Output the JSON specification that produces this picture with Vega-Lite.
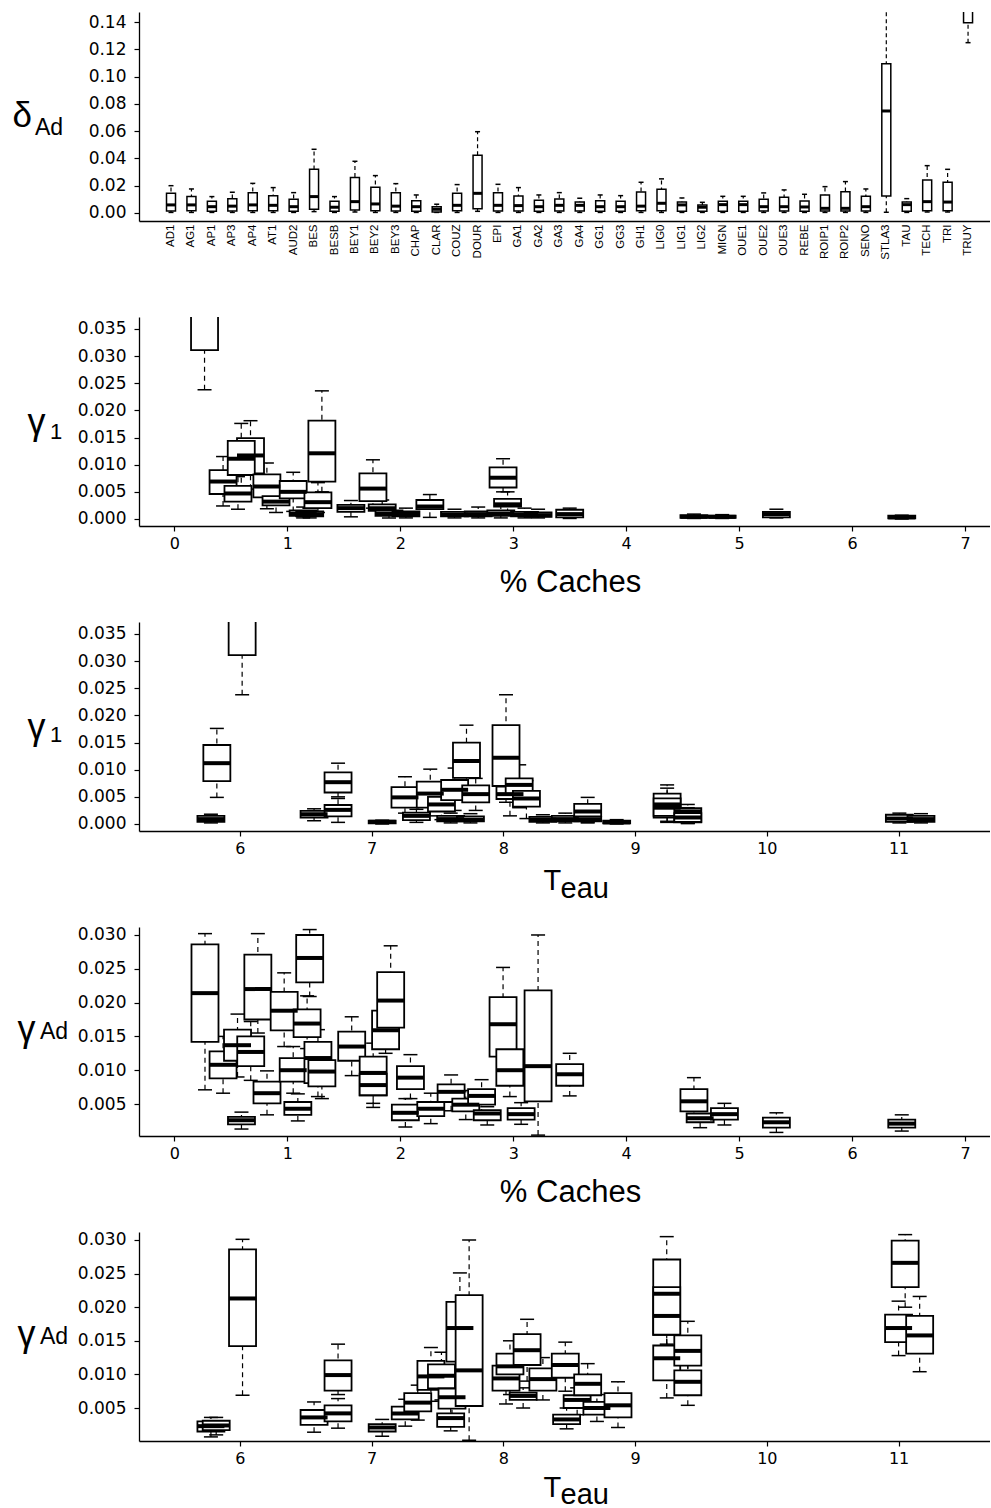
{
"$schema": "https://vega.github.io/schema/vega-lite/v6.json",
"padding": {"left": 12, "top": 12, "right": 0, "bottom": 0},
"background": "white",
"spacing": 96,
"bounds": "flush",
"config": {
  "view": {"stroke": null},
  "font": "Liberation Sans",
  "tick": {"opacity": 1},
  "axis": {"grid": false, "domainColor": "black", "tickColor": "black", "labelColor": "black", "titleColor": "black", "labelFont": "DejaVu Sans", "titleFont": "Liberation Sans", "labelFontSize": 16, "tickSize": 5, "titleFontWeight": "normal", "domainWidth": 1.3, "tickWidth": 1.2, "labelOverlap": false, "tickCount": 12},
  "title": {"font": "Liberation Sans", "fontWeight": "normal", "color": "black"}
},
"datasets": {
  "p1": [
    {"s":"AD1","lo":0.0004,"q1":0.0015,"med":0.0059,"q3":0.0144,"hi":0.0200},
    {"s":"AG1","lo":0.0004,"q1":0.0017,"med":0.0059,"q3":0.0120,"hi":0.0176},
    {"s":"AP1","lo":0.0004,"q1":0.0012,"med":0.0046,"q3":0.0086,"hi":0.0120},
    {"s":"AP3","lo":0.0004,"q1":0.0015,"med":0.0050,"q3":0.0105,"hi":0.0152},
    {"s":"AP4","lo":0.0004,"q1":0.0017,"med":0.0059,"q3":0.0149,"hi":0.0217},
    {"s":"AT1","lo":0.0004,"q1":0.0017,"med":0.0056,"q3":0.0127,"hi":0.0186},
    {"s":"AUD2","lo":0.0004,"q1":0.0012,"med":0.0046,"q3":0.0100,"hi":0.0149},
    {"s":"BES","lo":0.0010,"q1":0.0027,"med":0.0120,"q3":0.0320,"hi":0.0467},
    {"s":"BESB","lo":0.0004,"q1":0.0012,"med":0.0042,"q3":0.0086,"hi":0.0120},
    {"s":"BEY1","lo":0.0007,"q1":0.0022,"med":0.0083,"q3":0.0260,"hi":0.0379},
    {"s":"BEY2","lo":0.0004,"q1":0.0017,"med":0.0066,"q3":0.0188,"hi":0.0274},
    {"s":"BEY3","lo":0.0004,"q1":0.0015,"med":0.0050,"q3":0.0149,"hi":0.0215},
    {"s":"CHAP","lo":0.0004,"q1":0.0012,"med":0.0046,"q3":0.0090,"hi":0.0132},
    {"s":"CLAR","lo":0.0004,"q1":0.0007,"med":0.0027,"q3":0.0046,"hi":0.0064},
    {"s":"COUZ","lo":0.0004,"q1":0.0017,"med":0.0056,"q3":0.0144,"hi":0.0208},
    {"s":"DOUR","lo":0.0012,"q1":0.0030,"med":0.0144,"q3":0.0423,"hi":0.0596},
    {"s":"EPI","lo":0.0004,"q1":0.0015,"med":0.0056,"q3":0.0149,"hi":0.0210},
    {"s":"GA1","lo":0.0004,"q1":0.0015,"med":0.0054,"q3":0.0125,"hi":0.0186},
    {"s":"GA2","lo":0.0004,"q1":0.0012,"med":0.0046,"q3":0.0093,"hi":0.0132},
    {"s":"GA3","lo":0.0004,"q1":0.0015,"med":0.0056,"q3":0.0103,"hi":0.0149},
    {"s":"GA4","lo":0.0004,"q1":0.0015,"med":0.0056,"q3":0.0080,"hi":0.0108},
    {"s":"GG1","lo":0.0004,"q1":0.0012,"med":0.0046,"q3":0.0090,"hi":0.0132},
    {"s":"GG3","lo":0.0004,"q1":0.0012,"med":0.0046,"q3":0.0086,"hi":0.0127},
    {"s":"GH1","lo":0.0004,"q1":0.0017,"med":0.0050,"q3":0.0154,"hi":0.0225},
    {"s":"LIG0","lo":0.0004,"q1":0.0017,"med":0.0071,"q3":0.0174,"hi":0.0250},
    {"s":"LIG1","lo":0.0004,"q1":0.0012,"med":0.0059,"q3":0.0080,"hi":0.0110},
    {"s":"LIG2","lo":0.0004,"q1":0.0012,"med":0.0042,"q3":0.0059,"hi":0.0078},
    {"s":"MIGN","lo":0.0004,"q1":0.0012,"med":0.0061,"q3":0.0086,"hi":0.0122},
    {"s":"OUE1","lo":0.0004,"q1":0.0012,"med":0.0061,"q3":0.0086,"hi":0.0122},
    {"s":"OUE2","lo":0.0004,"q1":0.0015,"med":0.0046,"q3":0.0100,"hi":0.0147},
    {"s":"OUE3","lo":0.0004,"q1":0.0015,"med":0.0046,"q3":0.0115,"hi":0.0169},
    {"s":"REBE","lo":0.0004,"q1":0.0012,"med":0.0044,"q3":0.0088,"hi":0.0137},
    {"s":"ROIP1","lo":0.0004,"q1":0.0015,"med":0.0034,"q3":0.0132,"hi":0.0193},
    {"s":"ROIP2","lo":0.0004,"q1":0.0015,"med":0.0034,"q3":0.0156,"hi":0.0230},
    {"s":"SENO","lo":0.0004,"q1":0.0015,"med":0.0046,"q3":0.0122,"hi":0.0176},
    {"s":"STLA3","lo":0.0005,"q1":0.0125,"med":0.0748,"q3":0.1095,"hi":0.1500},
    {"s":"TAU","lo":0.0004,"q1":0.0012,"med":0.0061,"q3":0.0080,"hi":0.0105},
    {"s":"TECH","lo":0.0007,"q1":0.0017,"med":0.0083,"q3":0.0242,"hi":0.0347},
    {"s":"TRI","lo":0.0007,"q1":0.0017,"med":0.0080,"q3":0.0225,"hi":0.0320},
    {"s":"TRUY","lo":0.1249,"q1":0.1395,"med":0.1600,"q3":0.1800,"hi":0.2000}
  ],
  "p2": [
    {"x":0.267,"lo":0.0238,"q1":0.0311,"med":0.045,"q3":0.060,"hi":0.080},
    {"x":0.431,"lo":0.0024,"q1":0.0046,"med":0.0069,"q3":0.0090,"hi":0.0115},
    {"x":0.563,"lo":0.0018,"q1":0.0032,"med":0.0047,"q3":0.0061,"hi":0.0078},
    {"x":0.674,"lo":0.0055,"q1":0.0084,"med":0.0117,"q3":0.0149,"hi":0.0181},
    {"x":0.592,"lo":0.0050,"q1":0.0081,"med":0.0111,"q3":0.0144,"hi":0.0176},
    {"x":0.819,"lo":0.0019,"q1":0.0040,"med":0.0060,"q3":0.0082,"hi":0.0103},
    {"x":0.900,"lo":0.0012,"q1":0.0025,"med":0.0032,"q3":0.0042,"hi":0.0060},
    {"x":1.052,"lo":0.0014,"q1":0.0038,"med":0.0050,"q3":0.0070,"hi":0.0086},
    {"x":1.140,"lo":0.0002,"q1":0.0006,"med":0.0010,"q3":0.0016,"hi":0.0022},
    {"x":1.198,"lo":0.0002,"q1":0.0005,"med":0.0009,"q3":0.0014,"hi":0.0020},
    {"x":1.306,"lo":0.0050,"q1":0.0069,"med":0.0121,"q3":0.0181,"hi":0.0236},
    {"x":1.271,"lo":0.0012,"q1":0.0020,"med":0.0031,"q3":0.0049,"hi":0.0067},
    {"x":1.563,"lo":0.0004,"q1":0.0013,"med":0.0020,"q3":0.0026,"hi":0.0034},
    {"x":1.758,"lo":0.0020,"q1":0.0033,"med":0.0056,"q3":0.0084,"hi":0.0109},
    {"x":1.840,"lo":0.0008,"q1":0.0015,"med":0.0020,"q3":0.0027,"hi":0.0035},
    {"x":1.900,"lo":0.0002,"q1":0.0006,"med":0.0010,"q3":0.0016,"hi":0.0024},
    {"x":2.050,"lo":0.0002,"q1":0.0005,"med":0.0009,"q3":0.0014,"hi":0.0020},
    {"x":2.262,"lo":0.0003,"q1":0.0018,"med":0.0023,"q3":0.0035,"hi":0.0045},
    {"x":2.480,"lo":0.0002,"q1":0.0005,"med":0.0008,"q3":0.0013,"hi":0.0018},
    {"x":2.690,"lo":0.0002,"q1":0.0005,"med":0.0009,"q3":0.0014,"hi":0.0022},
    {"x":2.910,"lo":0.0050,"q1":0.0058,"med":0.0076,"q3":0.0095,"hi":0.0111},
    {"x":2.950,"lo":0.0010,"q1":0.0023,"med":0.0027,"q3":0.0037,"hi":0.0050},
    {"x":2.890,"lo":0.0002,"q1":0.0006,"med":0.0010,"q3":0.0016,"hi":0.0025},
    {"x":3.100,"lo":0.0002,"q1":0.0005,"med":0.0008,"q3":0.0013,"hi":0.0020},
    {"x":3.220,"lo":0.0002,"q1":0.0004,"med":0.0007,"q3":0.0012,"hi":0.0018},
    {"x":3.500,"lo":0.0001,"q1":0.0003,"med":0.0009,"q3":0.0017,"hi":0.0020},
    {"x":4.600,"lo":0.0001,"q1":0.0002,"med":0.0004,"q3":0.0007,"hi":0.0009},
    {"x":4.850,"lo":0.0001,"q1":0.0002,"med":0.0004,"q3":0.0006,"hi":0.0008},
    {"x":5.330,"lo":0.0002,"q1":0.0003,"med":0.0009,"q3":0.0013,"hi":0.0018},
    {"x":6.440,"lo":0.0000,"q1":0.0001,"med":0.0003,"q3":0.0006,"hi":0.0007}
  ],
  "p3": [
    {"x":6.017,"lo":0.0238,"q1":0.0311,"med":0.045,"q3":0.060,"hi":0.080},
    {"x":5.825,"lo":0.0049,"q1":0.0079,"med":0.0112,"q3":0.01455,"hi":0.0176},
    {"x":5.780,"lo":0.0002,"q1":0.0004,"med":0.0009,"q3":0.0015,"hi":0.0018},
    {"x":6.563,"lo":0.0006,"q1":0.0012,"med":0.0018,"q3":0.0024,"hi":0.0028},
    {"x":6.745,"lo":0.0050,"q1":0.0058,"med":0.0077,"q3":0.0095,"hi":0.0112},
    {"x":6.745,"lo":0.0003,"q1":0.0014,"med":0.0026,"q3":0.0035,"hi":0.0047},
    {"x":7.080,"lo":0.0000,"q1":0.0001,"med":0.0004,"q3":0.0006,"hi":0.0007},
    {"x":7.253,"lo":0.0020,"q1":0.0030,"med":0.0049,"q3":0.0068,"hi":0.0087},
    {"x":7.340,"lo":0.0003,"q1":0.0007,"med":0.0015,"q3":0.0021,"hi":0.0027},
    {"x":7.445,"lo":0.0015,"q1":0.0030,"med":0.0056,"q3":0.0078,"hi":0.0101},
    {"x":7.530,"lo":0.0008,"q1":0.0023,"med":0.0036,"q3":0.0050,"hi":0.0065},
    {"x":7.630,"lo":0.0025,"q1":0.0044,"med":0.0063,"q3":0.0081,"hi":0.0103},
    {"x":7.720,"lo":0.0050,"q1":0.0085,"med":0.0116,"q3":0.0150,"hi":0.0182},
    {"x":7.790,"lo":0.0025,"q1":0.0040,"med":0.0055,"q3":0.0071,"hi":0.0084},
    {"x":7.600,"lo":0.0002,"q1":0.0005,"med":0.0009,"q3":0.0015,"hi":0.0020},
    {"x":7.750,"lo":0.0002,"q1":0.0005,"med":0.0008,"q3":0.0014,"hi":0.0019},
    {"x":8.020,"lo":0.0040,"q1":0.0070,"med":0.0122,"q3":0.0182,"hi":0.0238},
    {"x":8.050,"lo":0.0015,"q1":0.0046,"med":0.0055,"q3":0.0069,"hi":0.0080},
    {"x":8.120,"lo":0.0030,"q1":0.0053,"med":0.0072,"q3":0.0084,"hi":0.0109},
    {"x":8.175,"lo":0.0010,"q1":0.0032,"med":0.0047,"q3":0.0061,"hi":0.0080},
    {"x":8.300,"lo":0.0002,"q1":0.0004,"med":0.0008,"q3":0.0013,"hi":0.0017},
    {"x":8.470,"lo":0.0002,"q1":0.0005,"med":0.0009,"q3":0.0015,"hi":0.0020},
    {"x":8.640,"lo":0.0003,"q1":0.0014,"med":0.0023,"q3":0.0037,"hi":0.0049},
    {"x":8.640,"lo":0.0002,"q1":0.0005,"med":0.0008,"q3":0.0013,"hi":0.0018},
    {"x":8.860,"lo":0.0000,"q1":0.0001,"med":0.0003,"q3":0.0006,"hi":0.0008},
    {"x":9.243,"lo":0.0003,"q1":0.0012,"med":0.0036,"q3":0.0056,"hi":0.0072},
    {"x":9.243,"lo":0.0005,"q1":0.0015,"med":0.0030,"q3":0.0047,"hi":0.0066},
    {"x":9.400,"lo":0.0001,"q1":0.0003,"med":0.0023,"q3":0.0029,"hi":0.0036},
    {"x":9.400,"lo":0.0001,"q1":0.0004,"med":0.0012,"q3":0.0020,"hi":0.0030},
    {"x":11.006,"lo":0.0002,"q1":0.0004,"med":0.0010,"q3":0.0017,"hi":0.0020},
    {"x":11.170,"lo":0.0002,"q1":0.0004,"med":0.0009,"q3":0.0015,"hi":0.0019}
  ],
  "p4": [
    {"x":0.271,"lo":0.0071,"q1":0.0142,"med":0.0214,"q3":0.0286,"hi":0.0302},
    {"x":0.431,"lo":0.0066,"q1":0.0088,"med":0.0108,"q3":0.0128,"hi":0.0150},
    {"x":0.559,"lo":0.0090,"q1":0.0114,"med":0.0137,"q3":0.0160,"hi":0.0183},
    {"x":0.676,"lo":0.0085,"q1":0.0106,"med":0.0127,"q3":0.0150,"hi":0.0172},
    {"x":0.594,"lo":0.0013,"q1":0.0020,"med":0.0026,"q3":0.0031,"hi":0.0038},
    {"x":0.739,"lo":0.0155,"q1":0.0175,"med":0.0220,"q3":0.0271,"hi":0.0302},
    {"x":0.820,"lo":0.0034,"q1":0.0051,"med":0.0066,"q3":0.0083,"hi":0.0099},
    {"x":0.972,"lo":0.0135,"q1":0.0159,"med":0.0188,"q3":0.0216,"hi":0.0244},
    {"x":1.052,"lo":0.0066,"q1":0.0083,"med":0.0100,"q3":0.0118,"hi":0.0135},
    {"x":1.093,"lo":0.0025,"q1":0.0034,"med":0.0043,"q3":0.0053,"hi":0.0065},
    {"x":1.198,"lo":0.0209,"q1":0.0230,"med":0.0266,"q3":0.0300,"hi":0.0308},
    {"x":1.175,"lo":0.0132,"q1":0.0149,"med":0.0169,"q3":0.0190,"hi":0.0210},
    {"x":1.271,"lo":0.0061,"q1":0.0081,"med":0.0118,"q3":0.0142,"hi":0.0160},
    {"x":1.306,"lo":0.0058,"q1":0.0076,"med":0.0098,"q3":0.0115,"hi":0.0133},
    {"x":1.570,"lo":0.0092,"q1":0.0114,"med":0.0135,"q3":0.0157,"hi":0.0179},
    {"x":1.760,"lo":0.0051,"q1":0.0063,"med":0.0096,"q3":0.0120,"hi":0.0140},
    {"x":1.760,"lo":0.0045,"q1":0.0063,"med":0.0078,"q3":0.0095,"hi":0.0110},
    {"x":1.870,"lo":0.0125,"q1":0.0131,"med":0.0159,"q3":0.0188,"hi":0.0215},
    {"x":1.915,"lo":0.0145,"q1":0.0163,"med":0.0203,"q3":0.0245,"hi":0.0284},
    {"x":2.090,"lo":0.0058,"q1":0.0072,"med":0.0089,"q3":0.0106,"hi":0.0123},
    {"x":2.045,"lo":0.0016,"q1":0.0026,"med":0.0037,"q3":0.0049,"hi":0.0058},
    {"x":2.270,"lo":0.0021,"q1":0.0032,"med":0.0043,"q3":0.0053,"hi":0.0066},
    {"x":2.450,"lo":0.0040,"q1":0.0053,"med":0.0068,"q3":0.0079,"hi":0.0093},
    {"x":2.580,"lo":0.0027,"q1":0.0039,"med":0.0049,"q3":0.0058,"hi":0.0070},
    {"x":2.720,"lo":0.0035,"q1":0.0049,"med":0.0062,"q3":0.0072,"hi":0.0086},
    {"x":2.770,"lo":0.0019,"q1":0.0026,"med":0.0036,"q3":0.0041,"hi":0.0046},
    {"x":2.910,"lo":0.0100,"q1":0.0120,"med":0.0168,"q3":0.0208,"hi":0.0252},
    {"x":2.970,"lo":0.0061,"q1":0.0077,"med":0.0100,"q3":0.0131,"hi":0.0149},
    {"x":3.070,"lo":0.0020,"q1":0.0027,"med":0.0035,"q3":0.0044,"hi":0.0052},
    {"x":3.220,"lo":0.0004,"q1":0.0054,"med":0.0106,"q3":0.0218,"hi":0.0300},
    {"x":3.500,"lo":0.0062,"q1":0.0077,"med":0.0094,"q3":0.0109,"hi":0.0125},
    {"x":4.600,"lo":0.0030,"q1":0.0039,"med":0.0054,"q3":0.0072,"hi":0.0089},
    {"x":4.655,"lo":0.0015,"q1":0.0023,"med":0.0029,"q3":0.0036,"hi":0.0043},
    {"x":4.870,"lo":0.0019,"q1":0.0027,"med":0.0035,"q3":0.0044,"hi":0.0051},
    {"x":5.330,"lo":0.0008,"q1":0.0015,"med":0.0023,"q3":0.0030,"hi":0.0037},
    {"x":6.440,"lo":0.0010,"q1":0.0015,"med":0.0021,"q3":0.0027,"hi":0.0034}
  ],
  "p5": [
    {"x":5.780,"lo":0.0007,"q1":0.0015,"med":0.0023,"q3":0.0030,"hi":0.0036},
    {"x":5.820,"lo":0.0010,"q1":0.0017,"med":0.0024,"q3":0.0031,"hi":0.0036},
    {"x":6.020,"lo":0.0069,"q1":0.0142,"med":0.0213,"q3":0.0286,"hi":0.0301},
    {"x":6.563,"lo":0.0014,"q1":0.0025,"med":0.0036,"q3":0.0047,"hi":0.0059},
    {"x":6.745,"lo":0.0070,"q1":0.0076,"med":0.0099,"q3":0.0121,"hi":0.0145},
    {"x":6.745,"lo":0.0020,"q1":0.0030,"med":0.0042,"q3":0.0054,"hi":0.0064},
    {"x":7.080,"lo":0.0008,"q1":0.0015,"med":0.0021,"q3":0.0026,"hi":0.0033},
    {"x":7.255,"lo":0.0023,"q1":0.0033,"med":0.0042,"q3":0.0052,"hi":0.0063},
    {"x":7.350,"lo":0.0032,"q1":0.0045,"med":0.0058,"q3":0.0072,"hi":0.0084},
    {"x":7.450,"lo":0.0060,"q1":0.0077,"med":0.0097,"q3":0.0120,"hi":0.0140},
    {"x":7.530,"lo":0.0062,"q1":0.0079,"med":0.0098,"q3":0.0115,"hi":0.0133},
    {"x":7.610,"lo":0.0040,"q1":0.0049,"med":0.0066,"q3":0.0079,"hi":0.0095},
    {"x":7.600,"lo":0.0016,"q1":0.0022,"med":0.0035,"q3":0.0042,"hi":0.0050},
    {"x":7.670,"lo":0.0090,"q1":0.0119,"med":0.0169,"q3":0.0208,"hi":0.0251},
    {"x":7.740,"lo":0.0002,"q1":0.0053,"med":0.0106,"q3":0.0218,"hi":0.0300},
    {"x":8.020,"lo":0.0056,"q1":0.0076,"med":0.0094,"q3":0.0113,"hi":0.0130},
    {"x":8.050,"lo":0.0070,"q1":0.0100,"med":0.0112,"q3":0.0131,"hi":0.0150},
    {"x":8.180,"lo":0.0090,"q1":0.0114,"med":0.0136,"q3":0.0160,"hi":0.0182},
    {"x":8.150,"lo":0.0050,"q1":0.0062,"med":0.0068,"q3":0.0073,"hi":0.0080},
    {"x":8.300,"lo":0.0062,"q1":0.0076,"med":0.0093,"q3":0.0109,"hi":0.0125},
    {"x":8.470,"lo":0.0075,"q1":0.0095,"med":0.0114,"q3":0.0131,"hi":0.0148},
    {"x":8.480,"lo":0.0019,"q1":0.0026,"med":0.0033,"q3":0.0040,"hi":0.0050},
    {"x":8.560,"lo":0.0040,"q1":0.0050,"med":0.0062,"q3":0.0069,"hi":0.0080},
    {"x":8.640,"lo":0.0055,"q1":0.0069,"med":0.0086,"q3":0.0100,"hi":0.0116},
    {"x":8.710,"lo":0.0030,"q1":0.0040,"med":0.0050,"q3":0.0059,"hi":0.0070},
    {"x":8.870,"lo":0.0021,"q1":0.0036,"med":0.0054,"q3":0.0072,"hi":0.0089},
    {"x":9.240,"lo":0.0145,"q1":0.0159,"med":0.0220,"q3":0.0271,"hi":0.0305},
    {"x":9.240,"lo":0.0140,"q1":0.0159,"med":0.0187,"q3":0.0230,"hi":0.0244},
    {"x":9.240,"lo":0.0065,"q1":0.0091,"med":0.0124,"q3":0.0143,"hi":0.0160},
    {"x":9.400,"lo":0.0095,"q1":0.0113,"med":0.0135,"q3":0.0158,"hi":0.0179},
    {"x":9.400,"lo":0.0054,"q1":0.0069,"med":0.0089,"q3":0.0106,"hi":0.0120},
    {"x":11.050,"lo":0.0200,"q1":0.0230,"med":0.0266,"q3":0.0299,"hi":0.0308},
    {"x":11.000,"lo":0.0128,"q1":0.0148,"med":0.0169,"q3":0.0189,"hi":0.0209},
    {"x":11.160,"lo":0.0104,"q1":0.0131,"med":0.0158,"q3":0.0187,"hi":0.0216}
  ]
},
"vconcat": [
  {
    "width": 851, "height": 209,
    "data": {"name": "p1"},
    "title": {"text": "Ad", "orient": "top", "anchor": "start", "frame": "group", "fontSize": 23, "offset": 0, "baseline": "alphabetic", "dx": -104, "dy": 146},
    "encoding": {"x": {"field": "s", "type": "nominal", "sort": null, "scale": {"paddingInner": 0, "paddingOuter": 0.82, "align": 0.65}, "axis": {"title": null, "labelAngle": 270, "labelFont": "Liberation Sans", "labelFontSize": 11.5, "ticks": false, "labelPadding": 3, "labelOverlap": false}}},
    "layer": [
      {"mark": {"type": "rule", "color": "black", "strokeDash": [4, 3], "strokeWidth": 1.2, "clip": true},
       "encoding": {"y": {"field": "lo", "type": "quantitative", "title": "δ", "scale": {"domain": [-0.0059, 0.1474], "nice": false, "zero": false}, "axis": {"values": [0, 0.02, 0.04, 0.06, 0.08, 0.1, 0.12, 0.14], "tickCount": 12, "format": ".2f", "labelOverlap": false, "labelFontSize": 17, "titleAngle": 0, "titleAlign": "left", "titleBaseline": "alphabetic", "titleX": -127, "titleY": 114, "titleFontSize": 35, "labelPadding": 8}}, "y2": {"field": "hi"}}},
      {"mark": {"type": "tick", "orient": "horizontal", "color": "black", "size": 5, "thickness": 1.5, "clip": true},
       "encoding": {"y": {"field": "lo", "type": "quantitative", "title": "δ"}}},
      {"mark": {"type": "tick", "orient": "horizontal", "color": "black", "size": 5, "thickness": 1.5, "clip": true},
       "encoding": {"y": {"field": "hi", "type": "quantitative", "title": "δ"}}},
      {"mark": {"type": "bar", "size": 9, "fill": "white", "stroke": "black", "strokeWidth": 1.5, "clip": true},
       "encoding": {"y": {"field": "q1", "type": "quantitative", "title": "δ"}, "y2": {"field": "q3"}}},
      {"mark": {"type": "tick", "orient": "horizontal", "color": "black", "size": 9, "thickness": 3, "clip": true},
       "encoding": {"y": {"field": "med", "type": "quantitative", "title": "δ"}}}
    ]
  },
  {
    "width": 851, "height": 209,
    "data": {"name": "p2"},
    "title": {"text": "1", "orient": "top", "anchor": "start", "frame": "group", "fontSize": 22, "offset": 0, "baseline": "alphabetic", "dx": -89, "dy": 144},
    "encoding": {"x": {"field": "x", "type": "quantitative", "scale": {"domain": [-0.269, 7.177], "nice": false, "zero": false}, "axis": {"title": "% Caches", "values": [0, 1, 2, 3, 4, 5, 6, 7], "format": "d", "tickCount": 12, "titleFontSize": 31, "titleX": 431, "titleY": 65, "titleAlign": "center", "titleBaseline": "alphabetic", "labelPadding": 4}}},
    "layer": [
      {"mark": {"type": "rule", "color": "black", "strokeDash": [5, 4], "strokeWidth": 1.2, "clip": true},
       "encoding": {"y": {"field": "lo", "type": "quantitative", "title": "γ", "scale": {"domain": [-0.00129, 0.0372], "nice": false, "zero": false}, "axis": {"values": [0, 0.005, 0.01, 0.015, 0.02, 0.025, 0.03, 0.035], "tickCount": 12, "format": ".3f", "labelOverlap": false, "labelFontSize": 17, "titleAngle": 0, "titleAlign": "left", "titleBaseline": "alphabetic", "titleX": -112, "titleY": 116, "titleFontSize": 36, "labelPadding": 8}}, "y2": {"field": "hi"}}},
      {"mark": {"type": "tick", "orient": "horizontal", "color": "black", "size": 14, "thickness": 1.5, "clip": true},
       "encoding": {"y": {"field": "lo", "type": "quantitative", "title": "γ"}}},
      {"mark": {"type": "tick", "orient": "horizontal", "color": "black", "size": 14, "thickness": 1.5, "clip": true},
       "encoding": {"y": {"field": "hi", "type": "quantitative", "title": "γ"}}},
      {"mark": {"type": "bar", "size": 27, "fill": "white", "stroke": "black", "strokeWidth": 1.8, "clip": true},
       "encoding": {"y": {"field": "q1", "type": "quantitative", "title": "γ"}, "y2": {"field": "q3"}}},
      {"mark": {"type": "tick", "orient": "horizontal", "color": "black", "size": 27, "thickness": 4, "clip": true},
       "encoding": {"y": {"field": "med", "type": "quantitative", "title": "γ"}}}
    ]
  },
  {
    "width": 851, "height": 209,
    "data": {"name": "p3"},
    "title": {"text": "1", "orient": "top", "anchor": "start", "frame": "group", "fontSize": 22, "offset": 0, "baseline": "alphabetic", "dx": -89, "dy": 142},
    "resolve": {"axis": {"x": "independent"}},
    "layer": [
      {"mark": {"type": "rule", "color": "black", "strokeDash": [5, 4], "strokeWidth": 1.2, "clip": true},
       "encoding": {
         "x": {"field": "x", "type": "quantitative", "scale": {"domain": [5.272, 11.656], "nice": false, "zero": false}, "axis": {"title": "T", "values": [6, 7, 8, 9, 10, 11], "format": "d", "tickCount": 12, "titleFontSize": 29, "titleX": 404, "titleY": 58, "titleAlign": "left", "titleBaseline": "alphabetic", "labelPadding": 4}},
         "y": {"field": "lo", "type": "quantitative", "title": "γ", "scale": {"domain": [-0.00129, 0.0372], "nice": false, "zero": false}, "axis": {"values": [0, 0.005, 0.01, 0.015, 0.02, 0.025, 0.03, 0.035], "tickCount": 12, "format": ".3f", "labelOverlap": false, "labelFontSize": 17, "titleAngle": 0, "titleAlign": "left", "titleBaseline": "alphabetic", "titleX": -112, "titleY": 116, "titleFontSize": 36, "labelPadding": 8}}, "y2": {"field": "hi"}}},
      {"mark": {"type": "tick", "orient": "horizontal", "color": "black", "size": 14, "thickness": 1.5, "clip": true},
       "encoding": {
         "x": {"field": "x", "type": "quantitative", "axis": {"orient": "top", "title": "eau", "domain": false, "ticks": false, "labels": false, "titleFontSize": 29, "titleX": 421, "titleY": 275, "titleAlign": "left", "titleBaseline": "alphabetic"}},
         "y": {"field": "lo", "type": "quantitative", "title": "γ"}}},
      {"mark": {"type": "tick", "orient": "horizontal", "color": "black", "size": 14, "thickness": 1.5, "clip": true},
       "encoding": {"x": {"field": "x", "type": "quantitative", "axis": null}, "y": {"field": "hi", "type": "quantitative", "title": "γ"}}},
      {"mark": {"type": "bar", "size": 27, "fill": "white", "stroke": "black", "strokeWidth": 1.8, "clip": true},
       "encoding": {"x": {"field": "x", "type": "quantitative", "axis": null}, "y": {"field": "q1", "type": "quantitative", "title": "γ"}, "y2": {"field": "q3"}}},
      {"mark": {"type": "tick", "orient": "horizontal", "color": "black", "size": 27, "thickness": 4, "clip": true},
       "encoding": {"x": {"field": "x", "type": "quantitative", "axis": null}, "y": {"field": "med", "type": "quantitative", "title": "γ"}}}
    ]
  },
  {
    "width": 851, "height": 209,
    "data": {"name": "p4"},
    "title": {"text": "Ad", "orient": "top", "anchor": "start", "frame": "group", "fontSize": 23, "offset": 0, "baseline": "alphabetic", "dx": -99, "dy": 136},
    "encoding": {"x": {"field": "x", "type": "quantitative", "scale": {"domain": [-0.269, 7.177], "nice": false, "zero": false}, "axis": {"title": "% Caches", "values": [0, 1, 2, 3, 4, 5, 6, 7], "format": "d", "tickCount": 12, "titleFontSize": 31, "titleX": 431, "titleY": 65, "titleAlign": "center", "titleBaseline": "alphabetic", "labelPadding": 4}}},
    "layer": [
      {"mark": {"type": "rule", "color": "black", "strokeDash": [5, 4], "strokeWidth": 1.2, "clip": true},
       "encoding": {"y": {"field": "lo", "type": "quantitative", "title": "γ", "scale": {"domain": [0.00027, 0.03118], "nice": false, "zero": false}, "axis": {"values": [0.005, 0.01, 0.015, 0.02, 0.025, 0.03], "tickCount": 12, "format": ".3f", "labelOverlap": false, "labelFontSize": 17, "titleAngle": 0, "titleAlign": "left", "titleBaseline": "alphabetic", "titleX": -122, "titleY": 113, "titleFontSize": 36, "labelPadding": 8}}, "y2": {"field": "hi"}}},
      {"mark": {"type": "tick", "orient": "horizontal", "color": "black", "size": 14, "thickness": 1.5, "clip": true},
       "encoding": {"y": {"field": "lo", "type": "quantitative", "title": "γ"}}},
      {"mark": {"type": "tick", "orient": "horizontal", "color": "black", "size": 14, "thickness": 1.5, "clip": true},
       "encoding": {"y": {"field": "hi", "type": "quantitative", "title": "γ"}}},
      {"mark": {"type": "bar", "size": 27, "fill": "white", "stroke": "black", "strokeWidth": 1.8, "clip": true},
       "encoding": {"y": {"field": "q1", "type": "quantitative", "title": "γ"}, "y2": {"field": "q3"}}},
      {"mark": {"type": "tick", "orient": "horizontal", "color": "black", "size": 27, "thickness": 4, "clip": true},
       "encoding": {"y": {"field": "med", "type": "quantitative", "title": "γ"}}}
    ]
  },
  {
    "width": 851, "height": 209,
    "data": {"name": "p5"},
    "title": {"text": "Ad", "orient": "top", "anchor": "start", "frame": "group", "fontSize": 23, "offset": 0, "baseline": "alphabetic", "dx": -99, "dy": 136},
    "resolve": {"axis": {"x": "independent"}},
    "layer": [
      {"mark": {"type": "rule", "color": "black", "strokeDash": [5, 4], "strokeWidth": 1.2, "clip": true},
       "encoding": {
         "x": {"field": "x", "type": "quantitative", "scale": {"domain": [5.272, 11.656], "nice": false, "zero": false}, "axis": {"title": "T", "values": [6, 7, 8, 9, 10, 11], "format": "d", "tickCount": 12, "titleFontSize": 29, "titleX": 404, "titleY": 55, "titleAlign": "left", "titleBaseline": "alphabetic", "labelPadding": 4}},
         "y": {"field": "lo", "type": "quantitative", "title": "γ", "scale": {"domain": [0.00009, 0.03119], "nice": false, "zero": false}, "axis": {"values": [0.005, 0.01, 0.015, 0.02, 0.025, 0.03], "tickCount": 12, "format": ".3f", "labelOverlap": false, "labelFontSize": 17, "titleAngle": 0, "titleAlign": "left", "titleBaseline": "alphabetic", "titleX": -122, "titleY": 113, "titleFontSize": 36, "labelPadding": 8}}, "y2": {"field": "hi"}}},
      {"mark": {"type": "tick", "orient": "horizontal", "color": "black", "size": 14, "thickness": 1.5, "clip": true},
       "encoding": {
         "x": {"field": "x", "type": "quantitative", "axis": {"orient": "top", "title": "eau", "domain": false, "ticks": false, "labels": false, "titleFontSize": 29, "titleX": 421, "titleY": 271, "titleAlign": "left", "titleBaseline": "alphabetic"}},
         "y": {"field": "lo", "type": "quantitative", "title": "γ"}}},
      {"mark": {"type": "tick", "orient": "horizontal", "color": "black", "size": 14, "thickness": 1.5, "clip": true},
       "encoding": {"x": {"field": "x", "type": "quantitative", "axis": null}, "y": {"field": "hi", "type": "quantitative", "title": "γ"}}},
      {"mark": {"type": "bar", "size": 27, "fill": "white", "stroke": "black", "strokeWidth": 1.8, "clip": true},
       "encoding": {"x": {"field": "x", "type": "quantitative", "axis": null}, "y": {"field": "q1", "type": "quantitative", "title": "γ"}, "y2": {"field": "q3"}}},
      {"mark": {"type": "tick", "orient": "horizontal", "color": "black", "size": 27, "thickness": 4, "clip": true},
       "encoding": {"x": {"field": "x", "type": "quantitative", "axis": null}, "y": {"field": "med", "type": "quantitative", "title": "γ"}}}
    ]
  }
]
}
